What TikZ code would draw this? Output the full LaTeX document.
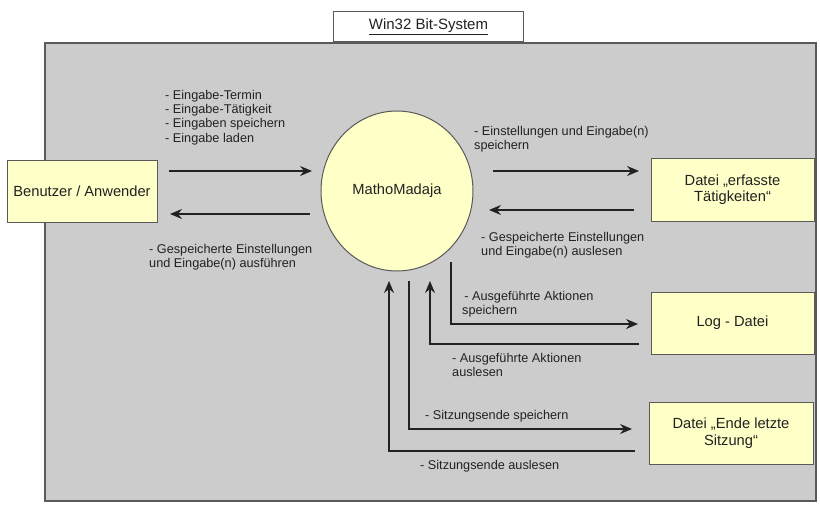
\documentclass[tikz,border=0pt]{standalone}
\usepackage{fontspec}
\setmainfont{Liberation Sans}
\usetikzlibrary{arrows.meta,shapes.geometric}
\definecolor{sysgray}{HTML}{CCCCCC}
\definecolor{sysborder}{HTML}{5A5A5A}
\definecolor{boxyellow}{HTML}{FFFFC8}
\definecolor{txt}{HTML}{222222}
\tikzset{
  box/.style={draw=sysborder, line width=1pt, fill=boxyellow, text=txt, align=center, font=\fontsize{14.7}{16.5}\selectfont, inner sep=0pt},
  lbl/.style={anchor=north west, inner sep=0pt, align=left, text=txt, font=\fontsize{12.7}{14.2}\selectfont},
  flow/.style={draw=txt, line width=1.1pt, -{Stealth[length=12pt,width=10pt,inset=4pt]}},
}
\begin{document}
\begin{tikzpicture}[x=1pt,y=-1pt]
\useasboundingbox[fill=white] (0,0) rectangle (820,511);
% system frame
\node[draw=sysborder, line width=1.6pt, fill=sysgray, minimum width=771pt, minimum height=458pt, anchor=north west, inner sep=0pt] (sys) at (44,42) {};
\node[draw=sysborder, line width=1pt, fill=white, minimum width=190pt, minimum height=30pt, anchor=south west, inner sep=0pt, font=\fontsize{15}{17}\selectfont, text=txt] (title) at (333,42) {\underline{Win32 Bit-System}};
% main nodes
\node[box, minimum width=150pt, minimum height=62pt] (user) at (82,191) {Benutzer / Anwender};
\node[draw=sysborder, line width=1pt, fill=boxyellow, ellipse, minimum width=152pt, minimum height=160pt, inner sep=0pt, text=txt, font=\fontsize{14.7}{16.5}\selectfont] (mm) at (397,191) {MathoMadaja};
\node[box, minimum width=163pt, minimum height=63pt] (dat) at (732.5,189.5) {Datei „erfasste\\Tätigkeiten“};
\node[box, minimum width=163pt, minimum height=62pt] (log) at (732.5,323) {Log - Datei};
\node[box, minimum width=164pt, minimum height=62pt] (ende) at (731,433) {Datei „Ende letzte\\Sitzung“};
% connector helper coordinates
\coordinate (u1a) at (169,171); \coordinate (u1b) at (312,171);
\coordinate (u2a) at (310,214); \coordinate (u2b) at (170,214);
\coordinate (d1a) at (493,171); \coordinate (d1b) at (639,171);
\coordinate (d2a) at (634,210); \coordinate (d2b) at (489,210);
\coordinate (l1a) at (451,262); \coordinate (l1c) at (451,324); \coordinate (l1b) at (638,324);
\coordinate (l2a) at (639,344); \coordinate (l2c) at (430,344); \coordinate (l2b) at (430,281);
\coordinate (s1a) at (409,281); \coordinate (s1c) at (409,429); \coordinate (s1b) at (632,429);
\coordinate (s2a) at (635,451); \coordinate (s2c) at (389,451); \coordinate (s2b) at (389,281);
% connectors
\draw[flow] (u1a) -- (u1b);
\draw[flow] (u2a) -- (u2b);
\draw[flow] (d1a) -- (d1b);
\draw[flow] (d2a) -- (d2b);
\draw[flow] (l1a) -- (l1c) -- (l1b);
\draw[flow] (l2a) -- (l2c) -- (l2b);
\draw[flow] (s1a) -- (s1c) -- (s1b);
\draw[flow] (s2a) -- (s2c) -- (s2b);
% labels
\node[lbl] (t1) at (165,90) {- Eingabe-Termin\\- Eingabe-Tätigkeit\\- Eingaben speichern\\- Eingabe laden};
\node[lbl] (t2) at (149,244) {- Gespeicherte Einstellungen\\und Eingabe(n) ausführen};
\node[lbl] (t3) at (474,126) {- Einstellungen und Eingabe(n)\\speichern};
\node[lbl] (t4) at (481,232) {- Gespeicherte Einstellungen\\und Eingabe(n) auslesen};
\node[lbl] (t5) at (462,291) {\,- Ausgeführte Aktionen\\speichern};
\node[lbl] (t6) at (452,353) {- Ausgeführte Aktionen\\auslesen};
\node[lbl] (t7) at (425,410) {- Sitzungsende speichern};
\node[lbl] (t8) at (420,460) {- Sitzungsende auslesen};
\end{tikzpicture}
\end{document}
